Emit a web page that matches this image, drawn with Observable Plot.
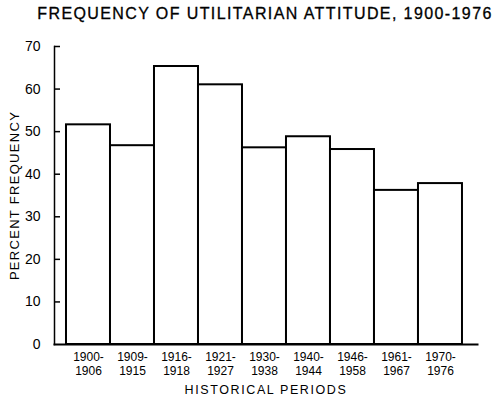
<!DOCTYPE html>
<html><head><meta charset="utf-8">
<script src="https://cdn.jsdelivr.net/npm/d3@7"></script>
<script src="https://cdn.jsdelivr.net/npm/@observablehq/plot@0.6"></script>
<style>
body{margin:0;background:#fff;}
#title{height:30px;line-height:28px;width:493px;box-sizing:border-box;padding-left:37px;text-align:center;font-family:"Liberation Sans";font-size:16px;letter-spacing:1.4px;color:#000;white-space:nowrap;-webkit-text-stroke:0.3px #000;}
</style></head><body>
<div id="title">FREQUENCY OF UTILITARIAN ATTITUDE, 1900-1976</div>
<div id="chart"></div>
<script>
const periods = ["1900-1906","1909-1915","1916-1918","1921-1927","1930-1938","1940-1944","1946-1958","1961-1967","1970-1976"];
const percents = [51.6, 46.7, 65.3, 61.0, 46.2, 48.8, 45.8, 36.2, 37.8];
const yTicks = [0, 10, 20, 30, 40, 50, 60, 70];
const yTitle = "PERCENT FREQUENCY";
const xTitle = "HISTORICAL PERIODS";

const data = periods.map((p, i) => ({period: p, value: percents[i]}));
const font = "Liberation Sans";
const chart = Plot.plot({
  width: 493, height: 376,
  marginTop: 16, marginBottom: 62, marginLeft: 54, marginRight: 16,
  style: {fontFamily: font, background: "white"},
  x: {domain: periods, paddingInner: 0, paddingOuter: 0.307, align: 0.444, round: false, label: null},
  y: {domain: [0, 70], label: null},
  marks: [
    Plot.barY(data, {x: "period", y: "value", fill: "white", stroke: "black", strokeWidth: 2}),
    Plot.frame({anchor: "left", stroke: "black", strokeWidth: 1.5}),
    Plot.frame({anchor: "bottom", stroke: "black", strokeWidth: 2}),
    Plot.axisY({ticks: yTicks.filter(d => d > 0), tickSize: 6, dx: 6, stroke: "#000", strokeWidth: 1.5, text: null}),
    Plot.axisY({ticks: yTicks, tickSize: 0, tickPadding: 14, fontSize: 14, fill: "#000", label: null}),
    Plot.axisX({tickSize: 0, tickPadding: 6, fontSize: 12, lineHeight: 1.2, fill: "#000", tickFormat: d => d.replace("-", "-\n"), label: null}),
    Plot.text([yTitle], {frameAnchor: "left", textAnchor: "middle", rotate: -90, dx: -40, fontSize: 13, fill: "#000", text: d => d}),
    Plot.text([xTitle], {frameAnchor: "bottom", textAnchor: "middle", dy: 49, fontSize: 12.5, fill: "#000", text: d => d})
  ]
});
const sel = d3.select(chart).selectAll("text");
sel.filter(function() { return this.textContent === yTitle; }).style("letter-spacing", "1.3px");
sel.filter(function() { return this.textContent === xTitle; }).style("letter-spacing", "1.6px");
document.getElementById("chart").appendChild(chart);
</script>
</body></html>
